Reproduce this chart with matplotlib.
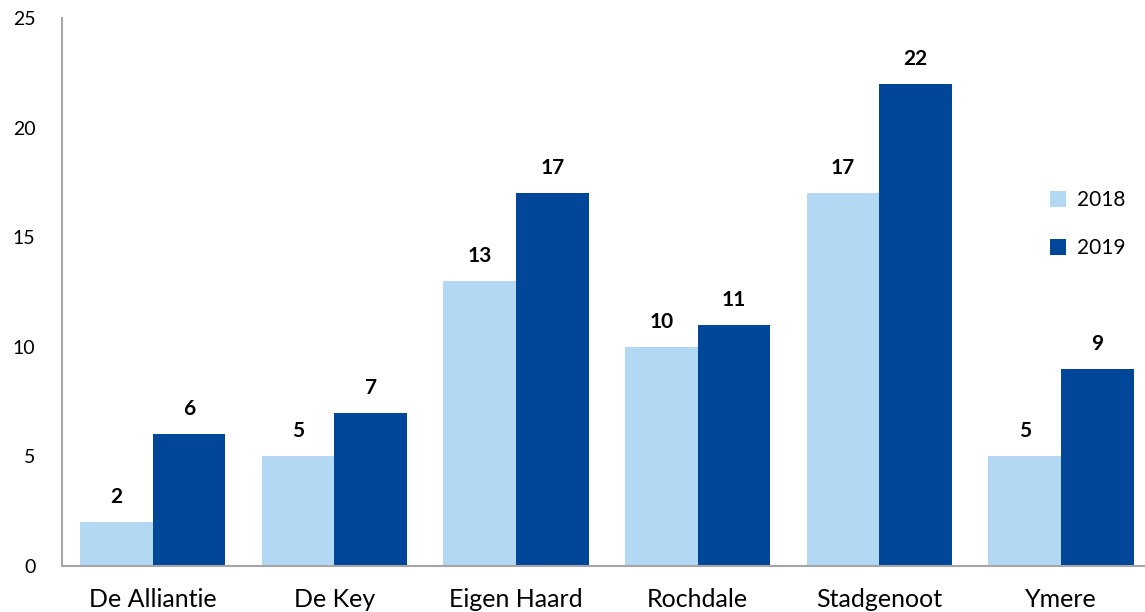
import numpy as np
import matplotlib.pyplot as plt

categories = ["De Alliantie", "De Key", "Eigen Haard", "Rochdale", "Stadgenoot", "Ymere"]
vals_2018 = [2, 5, 13, 10, 17, 5]
vals_2019 = [6, 7, 17, 11, 22, 9]
years = ["2018", "2019"]

plt.rcParams['font.family'] = ['Lato', 'DejaVu Sans']

light = "#B3D8F3"
dark = "#004699"

fig = plt.figure(figsize=(11.45, 6.12), dpi=100)
ax = fig.add_axes([0.054, 0.0752, 0.952, 0.8954])

x = np.arange(len(categories))
w = 0.4
b1 = ax.bar(x - w / 2, vals_2018, w, color=light, label=years[0])
b2 = ax.bar(x + w / 2, vals_2019, w, color=dark, label=years[1])

for bars, vals in [(b1, vals_2018), (b2, vals_2019)]:
    for rect, v in zip(bars, vals):
        ax.annotate(str(v), (rect.get_x() + rect.get_width() / 2, v),
                    xytext=(0, 18), textcoords="offset points",
                    ha="center", va="center", fontsize=15, fontweight="bold")

ax.set_xlim(-0.5, 5.5)
ax.set_ylim(0, 25)
ax.set_yticks([0, 5, 10, 15, 20, 25])
ax.set_xticks(x)
ax.set_xticklabels(categories)
ax.tick_params(axis="x", length=0, pad=16, labelsize=18)
ax.tick_params(axis="y", length=0, pad=19, labelsize=14)

for s in ["top", "right"]:
    ax.spines[s].set_visible(False)
for s in ["left", "bottom"]:
    ax.spines[s].set_color("#A6A6A6")
    ax.spines[s].set_linewidth(1.5)

ax.legend(loc="center left", bbox_to_anchor=(0.889, 0.624), frameon=False,
          fontsize=15, handlelength=0.8, handleheight=0.8, labelspacing=1.35,
          handletextpad=0.5)

fig.savefig("out.png", dpi=100)
